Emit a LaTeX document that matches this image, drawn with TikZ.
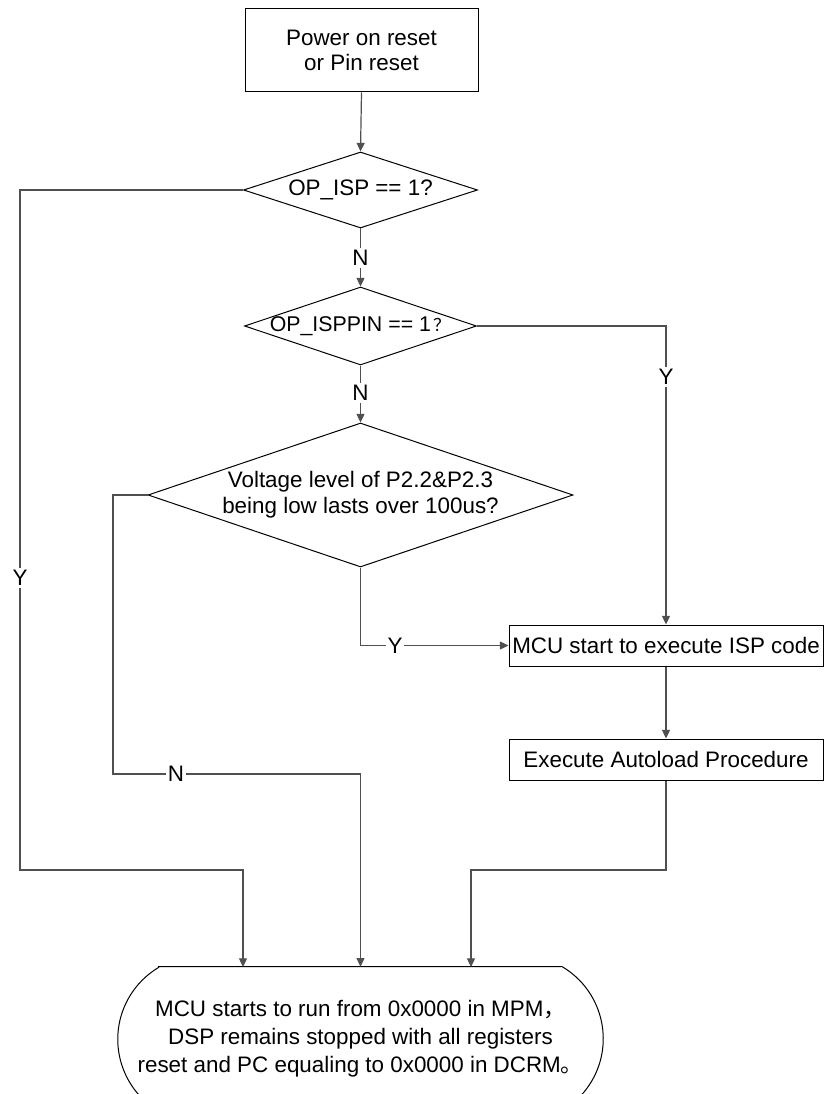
\documentclass[tikz,border=0pt]{standalone}
\usepackage{fontspec}
\setmainfont{Liberation Sans}
\newfontfamily\cjkfont{Noto Sans CJK SC}
\usetikzlibrary{shapes.geometric,arrows.meta,calc}
\definecolor{lnc}{RGB}{80,80,80}
\begin{document}
\begin{tikzpicture}[x=0.75pt,y=-0.75pt,
  every node/.style={font=\fontsize{16.8}{19.5}\selectfont, text=black},
  procbox/.style={draw=black, line width=0.75pt, rectangle, inner sep=0pt, align=center},
  decbox/.style={draw=black, line width=0.75pt, diamond, inner sep=0pt, align=center},
  conn/.style={draw=lnc, line width=0.9pt},
  arr/.style={conn, -{Triangle[length=6.5pt,width=6pt]}},
  lbl/.style={fill=white, inner sep=1.5pt},
]
\useasboundingbox (0,0) rectangle (825,1094);
\clip (0,0) rectangle (825,1094);

% nodes
\node[procbox, minimum width=233*0.75pt, minimum height=83*0.75pt,
      font=\fontsize{16.8}{18.75}\selectfont] (start) at (361.5,50.5) {Power on reset\\or Pin reset};
\node[decbox, aspect=3.08, minimum width=234*0.75pt, minimum height=76*0.75pt] (d1) at (360.5,190) {OP\_ISP == 1?};
\node[decbox, aspect=2.97, inner xsep=-9pt, minimum width=232*0.75pt, minimum height=78*0.75pt,
      font=\fontsize{16}{19.5}\selectfont] (d2) at (360.5,326) {OP\_ISPPIN == 1{\cjkfont\fontsize{13}{19.5}\selectfont\,？}};
\node[decbox, aspect=2.95, minimum width=425*0.75pt, minimum height=144*0.75pt] (d3) at (360.5,495) {Voltage level of P2.2\&P2.3\\being low lasts over 100us?};
\node[procbox, minimum width=314*0.75pt, minimum height=41*0.75pt] (mcu) at (666,645.5) {MCU start to execute ISP code};
\node[procbox, minimum width=314*0.75pt, minimum height=41*0.75pt] (auto) at (666,759.5) {Execute Autoload Procedure};
\node[align=center, minimum width=485*0.75pt, minimum height=144*0.75pt, inner sep=0pt,
      font=\fontsize{16.8}{21}\selectfont] (term) at (360.5,1039)
  {MCU starts to run from 0x0000 in MPM{\cjkfont ，}\\
   DSP remains stopped with all registers\\
   reset and PC equaling to 0x0000 in DCRM{\cjkfont 。}};
\draw[line width=0.75pt] ($(term.north west)+(41,0)$) -- ($(term.north east)+(-41,0)$)
  arc[start angle=-59.3, end angle=59.3, radius=83.7]
  -- ($(term.south west)+(41,0)$)
  arc[start angle=120.7, end angle=239.3, radius=83.7] -- cycle;

% helper coordinates
\coordinate (p1) at (20,870);
\coordinate (t1) at (243,967);
\coordinate (p2) at (113,774);
\coordinate (p3) at (666,870);
\coordinate (t3) at (471,967);

% connectors
\draw[arr] (start.south) -- (d1.north);
\draw[arr] (d1.west) -| (p1) -| (t1);
\draw[arr] (d1.south) -- (d2.north);
\draw[arr] (d2.east) -| (mcu.north);
\draw[arr] (d2.south) -- (d3.north);
\draw[arr] (d3.west) -| (p2) -| (term.north);
\draw[arr] (d3.south) |- (mcu.west);
\draw[arr] (mcu.south) -- (auto.north);
\draw[arr] (auto.south) -- (p3) -| (t3);

% labels
\node[lbl] (ly1) at (20,578) {Y};
\node[lbl] (ln1) at (360.5,258) {N};
\node[lbl] (ly2) at (666,377) {Y};
\node[lbl] (ln2) at (360.5,393) {N};
\node[lbl] (ln3) at (176,774) {N};
\node[lbl] (ly3) at (395,646) {Y};
\end{tikzpicture}
\end{document}
